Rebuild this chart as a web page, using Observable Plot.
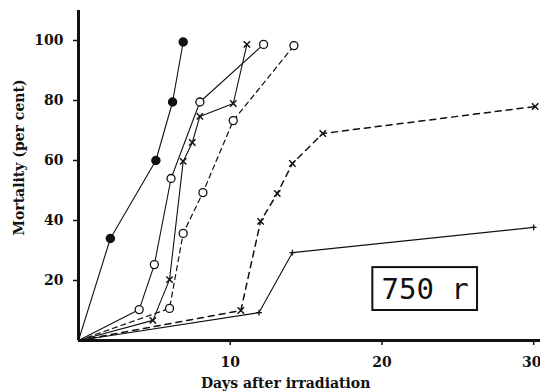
<!DOCTYPE html>
<html>
<head>
<meta charset="utf-8">
<script src="https://cdn.jsdelivr.net/npm/d3@7"></script>
<script src="https://cdn.jsdelivr.net/npm/@observablehq/plot@0.6"></script>
<style>
  html, body { margin: 0; padding: 0; background: #fff; }
  #chart { width: 540px; height: 391px; }
</style>
</head>
<body>
<div id="chart"></div>
<script>
// Series: days after irradiation vs mortality (per cent)
const filledSolidDays = [0, 2.1, 5.1, 6.2, 6.9];
const filledSolidMort = [0, 34, 60, 79.5, 99.5];

const openSolidDays = [0, 4.0, 5.0, 6.1, 8.0, 12.2];
const openSolidMort = [0, 10.3, 25.3, 54, 79.5, 98.7];

const crossSolidDays = [0, 4.9, 6.0, 6.9, 7.5, 8.0, 10.2, 11.1];
const crossSolidMort = [0, 6.7, 20.3, 59.7, 66, 74.7, 79, 98.7];

const openDashedDays = [0, 6.0, 6.9, 8.2, 10.2, 14.2];
const openDashedMort = [0, 10.7, 35.7, 49.3, 73.3, 98.3];

const crossDashedDays = [0, 10.7, 12.0, 13.1, 14.1, 16.1, 30.1];
const crossDashedMort = [0, 10, 39.7, 49, 59, 69, 78];

const plusSolidDays = [0, 11.9, 14.1, 30.0];
const plusSolidMort = [0, 9.3, 29.3, 37.7];

const xTicks = [10, 20, 30];
const yTicks = [20, 40, 60, 80, 100];
const xLabel = "Days after irradiation";
const yLabel = "Mortality (per cent)";
const doseLabel = "750 r";
const doseBox = {x1: 19.4, x2: 26.3, y1: 10, y2: 24.3};

const zip = (xs, ys) => xs.map((x, i) => ({x, y: ys[i]}));
const A = zip(filledSolidDays, filledSolidMort);
const B = zip(openSolidDays, openSolidMort);
const C = zip(crossSolidDays, crossSolidMort);
const D = zip(openDashedDays, openDashedMort);
const E = zip(crossDashedDays, crossDashedMort);
const F = zip(plusSolidDays, plusSolidMort);
const noFirst = arr => arr.slice(1);

const chart = Plot.plot({
  width: 540,
  height: 391,
  marginLeft: 78,
  marginRight: 0,
  marginTop: 10,
  marginBottom: 51,
  style: {fontFamily: "DejaVu Serif", fontWeight: "bold", fontSize: "14px", background: "#fff", color: "#111"},
  x: {domain: [0, 30.45]},
  y: {domain: [0, 110]},
  marks: [
    Plot.axisX({ticks: xTicks, tickSize: 5, text: null, label: null, strokeWidth: 1.5}),
    Plot.axisX({ticks: xTicks.slice(0, -1), tickSize: 0, tickPadding: 17, label: null}),
    Plot.axisX({ticks: xTicks.slice(-1), tickSize: 0, tickPadding: 17, label: null, dx: -2}),
    Plot.axisY({ticks: yTicks, tickSize: 5, tickPadding: 10, label: null, strokeWidth: 1.5}),
    Plot.text([xLabel], {frameAnchor: "bottom", x: () => 13.65, text: d => d, dy: 47, fontSize: 14, fill: "#111"}),
    Plot.text([yLabel], {frameAnchor: "left", y: () => 61, text: d => d, rotate: -90, textAnchor: "middle", dx: -59, fontSize: 14, fill: "#111"}),
    Plot.ruleX([0], {strokeWidth: 3, stroke: "#111"}),
    Plot.ruleY([0], {strokeWidth: 3, stroke: "#111"}),
    Plot.line(A, {x: "x", y: "y", stroke: "#111", strokeWidth: 1.1}),
    Plot.line(B, {x: "x", y: "y", stroke: "#111", strokeWidth: 1.1}),
    Plot.line(C, {x: "x", y: "y", stroke: "#111", strokeWidth: 1.1}),
    Plot.line(D, {x: "x", y: "y", stroke: "#111", strokeWidth: 1.2, strokeDasharray: "5,4"}),
    Plot.line(E, {x: "x", y: "y", stroke: "#111", strokeWidth: 1.5, strokeDasharray: "6,5"}),
    Plot.line(F, {x: "x", y: "y", stroke: "#111", strokeWidth: 1.1}),
    Plot.dot(noFirst(A), {x: "x", y: "y", r: 4, fill: "#111", stroke: "#111"}),
    Plot.dot(noFirst(B), {x: "x", y: "y", r: 4, fill: "#fff", stroke: "#111", strokeWidth: 1.3}),
    Plot.dot(noFirst(C), {x: "x", y: "y", r: 3, symbol: "times", stroke: "#111", strokeWidth: 1.5}),
    Plot.dot(noFirst(D), {x: "x", y: "y", r: 4, fill: "#fff", stroke: "#111", strokeWidth: 1.3}),
    Plot.dot(noFirst(E), {x: "x", y: "y", r: 3, symbol: "times", stroke: "#111", strokeWidth: 1.5}),
    Plot.dot(noFirst(F), {x: "x", y: "y", r: 2, symbol: "plus", stroke: "#111", strokeWidth: 1.3}),
    Plot.rect([doseBox], {x1: "x1", x2: "x2", y1: "y1", y2: "y2", fill: "#fff", stroke: "#111", strokeWidth: 2}),
    Plot.text([doseLabel], {x: () => (doseBox.x1 + doseBox.x2) / 2, y: () => (doseBox.y1 + doseBox.y2) / 2, text: d => d, fontFamily: "DejaVu Sans Mono", fontWeight: "normal", fontSize: 29, dy: 1, fill: "#111"})
  ]
});
document.getElementById("chart").appendChild(chart);
</script>
</body>
</html>
